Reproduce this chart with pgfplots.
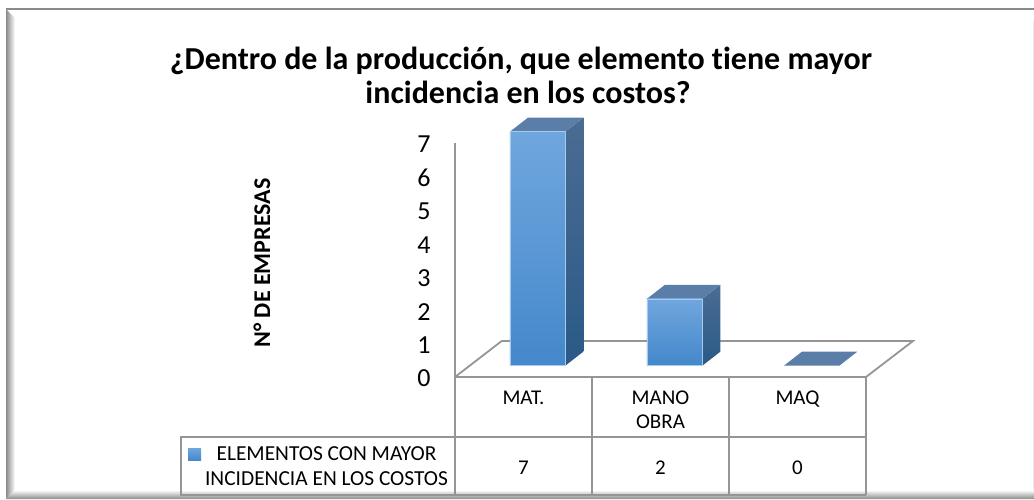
\documentclass[border=0pt]{standalone}
\usepackage{fontspec}
\setmainfont[Ligatures=NoCommon]{Carlito}
\usepackage{pgfplots}
\pgfplotsset{compat=1.18}
\definecolor{fronttop}{HTML}{70A6DE}
\definecolor{frontbot}{HTML}{4488CB}
\definecolor{sidetop}{HTML}{4A6C93}
\definecolor{sidebot}{HTML}{2A5A88}
\definecolor{topface}{HTML}{5A7EA8}
\definecolor{edgeblue}{HTML}{A5CBEF}
\definecolor{gridc}{HTML}{959595}
\definecolor{framec}{HTML}{8A8A8A}
\begin{document}
\begin{tikzpicture}[x=1pt,y=-1pt]
\path[use as bounding box] (0,0) rectangle (1034,499);
% frame
\shade[left color=framec,right color=white] (6,9) -- (15,18) -- (15,490) -- (6,499) -- cycle;
\fill[framec] (6,8) rectangle (1034,10);
\shade[top color=white,bottom color=framec] (6,499) -- (15,490) -- (1034,490) -- (1034,499) -- cycle;
\draw[black!8,line width=1pt] (1033.5,20) -- (1033.5,490);
% title and axis name
\node[font=\bfseries\fontsize{32}{34}\selectfont,align=center,text=black] at (521,75) {¿Dentro de la producción, que elemento tiene mayor\\\hspace*{14pt}incidencia en los costos?};
\node[font=\bfseries\fontsize{24}{26}\selectfont,rotate=90,text=black] at (262,263) {N° DE EMPRESAS};
\begin{axis}[
  at={(455pt,-377pt)},anchor=south west,
  x=137pt,y=33.4286pt,
  xmin=-0.5,xmax=2.5,ymin=0,ymax=7,
  clip=false,
  axis lines=left,
  axis line style={gridc,line width=1.8pt,-},
  xtick={0,1,2},
  xticklabels={MAT.,MANO\\OBRA,MAQ},
  ytick={0,1,2,3,4,5,6,7},
  major tick length=0pt,
  /pgf/number format/assume math mode=true,
  yticklabel style={font=\fontsize{26}{28}\selectfont,text=black,anchor=east,xshift=-21pt,yshift=-1.5pt},
  xticklabel style={font=\fontsize{21}{24.5}\selectfont,text=black,align=center,anchor=north,yshift=-10pt},
]
% floor of the chart
\draw[gridc,line width=1.8pt] (axis cs:-0.5,0) -- (axis cs:-0.159,1.077) -- (axis cs:2.843,1.077) -- (axis cs:2.5,0);
% bars, side faces
\addplot[xshift=14.1pt,yshift=11.3pt,draw=none,bottom color=sidebot,top color=sidetop] coordinates {(0.2022,0)(0.3336,0.419)(0.3336,7.419)(0.2022,7)} -- cycle;
\addplot[xshift=14.1pt,yshift=11.3pt,draw=none,bottom color=sidebot,top color=sidetop] coordinates {(1.2022,0)(1.3336,0.419)(1.3336,2.419)(1.2022,2)} -- cycle;
% bars, top faces
\addplot[xshift=14.1pt,yshift=11.3pt,draw=none,fill=topface] coordinates {(-0.2022,7)(-0.0708,7.419)(0.3336,7.419)(0.2022,7)} -- cycle;
\addplot[xshift=14.1pt,yshift=11.3pt,draw=none,fill=topface] coordinates {(0.7978,2)(0.9292,2.419)(1.3336,2.419)(1.2022,2)} -- cycle;
\addplot[xshift=14.1pt,yshift=11.3pt,draw=none,fill=topface] coordinates {(1.7978,0)(1.9292,0.419)(2.3336,0.419)(2.2022,0)} -- cycle;
% bars, front faces
\addplot[xshift=14.1pt,yshift=11.3pt,draw=edgeblue,line width=0.5pt,bottom color=frontbot,top color=fronttop] coordinates {(-0.2022,0)(-0.2022,7)(0.2022,7)(0.2022,0)} -- cycle;
\addplot[xshift=14.1pt,yshift=11.3pt,draw=edgeblue,line width=0.5pt,bottom color=frontbot,top color=fronttop] coordinates {(0.7978,0)(0.7978,2)(1.2022,2)(1.2022,0)} -- cycle;
\end{axis}
% data table
\draw[gridc,line width=1.8pt] (181,437) rectangle (455,495);
\draw[gridc,line width=1.8pt] (455,376.5) -- (455,495) (592,376.5) -- (592,495) (729,376.5) -- (729,495) (866,376.5) -- (866,495);
\draw[gridc,line width=1.8pt] (455,437) -- (866,437);
\draw[gridc,line width=1.8pt] (455,495) -- (866,495);
\shade[top color=fronttop,bottom color=frontbot] (188,448) rectangle (201,460);
\node[font=\fontsize{21.4}{25.5}\selectfont,align=center,text=black] at (326.5,466) {ELEMENTOS CON MAYOR\\INCIDENCIA EN LOS COSTOS};
\foreach \xx/\vv in {523.5/7,660.5/2,797.5/0}
  \node[font=\fontsize{21}{24}\selectfont,text=black] at (\xx,468) {\vv};
\end{tikzpicture}
\end{document}
